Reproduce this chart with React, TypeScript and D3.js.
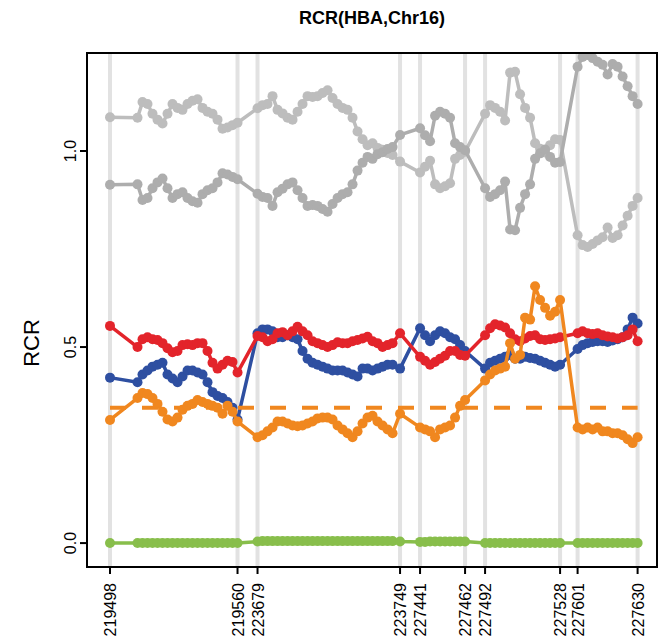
import React, { useRef, useEffect } from 'react';
import * as d3 from 'd3';

// SNP index of every sample along the x axis
const snpIndex = [
  1,
  12, 14, 16, 18, 20, 22, 24, 26, 28, 30, 32, 34, 36, 38, 40, 42, 44, 46, 48, 50, 52,
  60, 62, 64, 66, 68, 70, 72, 74, 76, 78, 80, 82, 84, 86, 88, 90, 92, 94, 96, 98, 100, 102, 104, 106, 108, 110, 112, 114, 117,
  125, 127, 129, 131, 133, 135, 137, 139, 141, 143,
  151, 153, 155, 157, 159, 161, 163, 165, 167, 169, 171, 173, 175, 177, 179, 181,
  188, 190, 192, 194, 196, 198, 200, 202, 204, 206, 208, 210, 212,
];

const tickIndex = [1, 52, 60, 117, 125, 143, 151, 181, 188, 212];
const tickLabels = ['219498', '219560', '223679', '223749', '227441', '227462', '227492', '227528', '227601', '227630'];
const yTicks = [0, 0.5, 1.0];
const yTickLabels = ['0.0', '0.5', '1.0'];

const grayLight = [
  1.086,
  1.085, 1.125, 1.12, 1.095, 1.08, 1.07, 1.095, 1.12, 1.11, 1.105, 1.12, 1.128, 1.132, 1.11, 1.10, 1.095, 1.08, 1.057, 1.06, 1.066, 1.072,
  1.109, 1.117, 1.12, 1.14, 1.105, 1.096, 1.085, 1.08, 1.10, 1.12, 1.14, 1.138, 1.14, 1.148, 1.155, 1.135, 1.12, 1.11, 1.105, 1.085, 1.05, 1.03, 1.015, 1.02, 1.008, 1.003, 0.995, 0.99, 0.973,
  0.945, 0.96, 0.975, 0.915, 0.905, 0.91, 0.918, 0.98, 0.99, 0.998,
  1.095, 1.117, 1.11, 1.10, 1.078, 1.20, 1.202, 1.145, 1.11, 1.085, 1.02, 1.006, 0.996, 1.015, 1.03, 1.028,
  0.785, 0.76, 0.755, 0.763, 0.772, 0.78, 0.805, 0.778, 0.785, 0.81, 0.835, 0.86, 0.88,
];

const grayDark = [
  0.914,
  0.915, 0.875, 0.88, 0.905, 0.92, 0.93, 0.905, 0.88, 0.89, 0.895, 0.88, 0.872, 0.868, 0.89, 0.90, 0.905, 0.92, 0.943, 0.94, 0.934, 0.928,
  0.891, 0.883, 0.88, 0.86, 0.895, 0.904, 0.915, 0.92, 0.90, 0.88, 0.86, 0.862, 0.86, 0.852, 0.845, 0.865, 0.88, 0.89, 0.895, 0.915, 0.95, 0.97, 0.985, 0.98, 0.992, 0.997, 1.005, 1.01, 1.041,
  1.058, 1.04, 1.025, 1.09, 1.10, 1.095, 1.085, 1.02, 1.01, 1.002,
  0.905, 0.883, 0.89, 0.90, 0.922, 0.80, 0.798, 0.855, 0.89, 0.915, 0.98, 0.994, 1.004, 0.985, 0.97, 0.972,
  1.215, 1.24, 1.245, 1.237, 1.228, 1.22, 1.195, 1.222, 1.215, 1.19, 1.165, 1.14, 1.12,
];

const blueRcr = [
  0.422,
  0.41, 0.43, 0.44, 0.45, 0.455, 0.46, 0.43, 0.42, 0.41, 0.425, 0.44, 0.44, 0.435, 0.43, 0.41, 0.385, 0.375, 0.37, 0.36, 0.345, 0.315,
  0.535, 0.545, 0.545, 0.54, 0.525, 0.525, 0.53, 0.525, 0.52, 0.49, 0.47, 0.46, 0.455, 0.45, 0.445, 0.44, 0.44, 0.44, 0.435, 0.43, 0.425, 0.445, 0.445, 0.44, 0.445, 0.45, 0.455, 0.455, 0.445,
  0.548, 0.53, 0.515, 0.53, 0.54, 0.535, 0.525, 0.52, 0.505, 0.49,
  0.445, 0.46, 0.465, 0.47, 0.475, 0.48, 0.47, 0.47, 0.475, 0.472, 0.47, 0.465, 0.46, 0.455, 0.45, 0.455,
  0.495, 0.505, 0.51, 0.513, 0.515, 0.515, 0.513, 0.517, 0.52, 0.525, 0.545, 0.575, 0.56,
];

const redRcr = [
  0.554,
  0.50, 0.52, 0.525, 0.52, 0.518, 0.51, 0.497, 0.487, 0.49, 0.505, 0.507, 0.505, 0.51, 0.51, 0.49, 0.46, 0.445, 0.455, 0.465, 0.462, 0.435,
  0.528, 0.525, 0.515, 0.52, 0.535, 0.538, 0.53, 0.54, 0.552, 0.54, 0.53, 0.515, 0.51, 0.505, 0.50, 0.505, 0.512, 0.51, 0.51, 0.515, 0.518, 0.522, 0.526, 0.515, 0.51, 0.50, 0.505, 0.51, 0.535,
  0.475, 0.465, 0.455, 0.462, 0.47, 0.478, 0.49, 0.49, 0.48, 0.478,
  0.53, 0.548, 0.558, 0.555, 0.55, 0.535, 0.52, 0.515, 0.522, 0.528, 0.53, 0.52, 0.518, 0.52, 0.522, 0.525,
  0.535, 0.54, 0.535, 0.533, 0.535, 0.53, 0.527, 0.525, 0.522, 0.525, 0.53, 0.545, 0.515,
];

const orangeRcr = [
  0.314,
  0.37, 0.383, 0.38, 0.37, 0.355, 0.335, 0.315, 0.31, 0.32, 0.34, 0.35, 0.355, 0.365, 0.36, 0.355, 0.35, 0.345, 0.33, 0.35, 0.335, 0.31,
  0.27, 0.275, 0.285, 0.295, 0.31, 0.31, 0.305, 0.30, 0.298, 0.30, 0.305, 0.31, 0.318, 0.32, 0.32, 0.315, 0.30, 0.29, 0.28, 0.27, 0.285, 0.305, 0.32, 0.325, 0.31, 0.30, 0.29, 0.28, 0.33,
  0.295, 0.29, 0.285, 0.27, 0.29, 0.295, 0.30, 0.32, 0.35, 0.365,
  0.415, 0.43, 0.44, 0.445, 0.45, 0.51, 0.47, 0.48, 0.575, 0.57, 0.655, 0.62, 0.60, 0.58, 0.59, 0.62,
  0.295, 0.29, 0.295, 0.29, 0.295, 0.285, 0.285, 0.28, 0.28, 0.275, 0.265, 0.255, 0.27,
];

const greenRcr = [
  0,
  0, 0, 0, 0, 0, 0, 0, 0, 0, 0, 0, 0, 0, 0, 0, 0, 0, 0, 0, 0, 0,
  0.004, 0.005, 0.005, 0.005, 0.005, 0.005, 0.005, 0.005, 0.005, 0.005, 0.005, 0.005, 0.005, 0.005, 0.005, 0.005, 0.005, 0.005, 0.005, 0.005, 0.005, 0.005, 0.005, 0.005, 0.005, 0.005, 0.005, 0.005, 0.004,
  0.003, 0.003, 0.004, 0.004, 0.004, 0.004, 0.004, 0.004, 0.004, 0.004,
  0, 0, 0, 0, 0, 0, 0, 0, 0, 0, 0, 0, 0, 0, 0, 0,
  0, 0, 0, 0, 0, 0, 0, 0, 0, 0, 0, 0, 0,
];

const orangeMean = 0.345;

const RcrChart = () => {
  const svgRef = useRef<SVGSVGElement>(null);

  useEffect(() => {
    const svg = d3.select(svgRef.current);
    svg.selectAll('*').remove();

    const width = 664;
    const height = 644;
    const box = { left: 87, right: 657, top: 53, bottom: 567 };
    const font = '"Liberation Sans", Arial, Helvetica, sans-serif';

    svg.attr('width', width).attr('height', height);

    const x = d3.scaleLinear().domain([1, 212]).range([110, 637.6]);
    const y = d3.scaleLinear().domain([-0.061, 1.25]).range([box.bottom, box.top]);

    svg.append('defs').append('clipPath')
      .attr('id', 'plot-clip')
      .append('rect')
      .attr('x', box.left)
      .attr('y', box.top)
      .attr('width', box.right - box.left)
      .attr('height', box.bottom - box.top);

    const plot = svg.append('g').attr('clip-path', 'url(#plot-clip)');

    // light guide lines at the labelled positions
    plot.selectAll('.guide')
      .data(tickIndex)
      .join('line')
      .attr('x1', d => x(d))
      .attr('x2', d => x(d))
      .attr('y1', box.top)
      .attr('y2', box.bottom)
      .attr('stroke', '#e2e2e2')
      .attr('stroke-width', 4);

    const series = [
      { name: 'grayLight', values: grayLight, color: '#bdbdbd' },
      { name: 'grayDark', values: grayDark, color: '#adadad' },
      { name: 'blue', values: blueRcr, color: '#2e4fa1' },
      { name: 'red', values: redRcr, color: '#e3242b' },
    ];

    const drawSeries = (s: { name: string; values: number[]; color: string }) => {
      const pts = snpIndex.map((idx, i) => [idx, s.values[i]] as [number, number]);
      const line = d3.line<[number, number]>()
        .x(d => x(d[0]))
        .y(d => y(d[1]));
      plot.append('path')
        .datum(pts)
        .attr('d', line)
        .attr('fill', 'none')
        .attr('stroke', s.color)
        .attr('stroke-width', 3.5)
        .attr('stroke-linejoin', 'round');
      plot.selectAll(`.dot-${s.name}`)
        .data(pts)
        .join('circle')
        .attr('class', `dot-${s.name}`)
        .attr('cx', d => x(d[0]))
        .attr('cy', d => y(d[1]))
        .attr('r', 5)
        .attr('fill', s.color);
    };

    series.forEach(drawSeries);

    // orange mean line
    plot.append('line')
      .attr('x1', x(snpIndex[0]))
      .attr('x2', x(snpIndex[snpIndex.length - 1]))
      .attr('y1', y(orangeMean))
      .attr('y2', y(orangeMean))
      .attr('stroke', '#f0871f')
      .attr('stroke-width', 4)
      .attr('stroke-dasharray', '16,16');

    drawSeries({ name: 'orange', values: orangeRcr, color: '#f0871f' });
    drawSeries({ name: 'green', values: greenRcr, color: '#88be4b' });

    // frame
    svg.append('rect')
      .attr('x', box.left)
      .attr('y', box.top)
      .attr('width', box.right - box.left)
      .attr('height', box.bottom - box.top)
      .attr('fill', 'none')
      .attr('stroke', '#000')
      .attr('stroke-width', 2);

    // y axis
    const yAxis = svg.append('g');
    yAxis.selectAll('line')
      .data(yTicks)
      .join('line')
      .attr('x1', box.left - 7)
      .attr('x2', box.left)
      .attr('y1', d => y(d))
      .attr('y2', d => y(d))
      .attr('stroke', '#000')
      .attr('stroke-width', 2);
    yAxis.selectAll('text')
      .data(yTicks)
      .join('text')
      .attr('transform', d => `translate(${box.left - 11}, ${y(d)}) rotate(-90)`)
      .attr('text-anchor', 'middle')
      .style('font-family', font)
      .style('font-size', '16px')
      .text((d, i) => yTickLabels[i]);

    // x axis
    const xAxis = svg.append('g');
    xAxis.selectAll('line')
      .data(tickIndex)
      .join('line')
      .attr('x1', d => x(d))
      .attr('x2', d => x(d))
      .attr('y1', box.bottom)
      .attr('y2', box.bottom + 7)
      .attr('stroke', '#000')
      .attr('stroke-width', 2);
    xAxis.selectAll('text')
      .data(tickIndex)
      .join('text')
      .attr('transform', d => `translate(${x(d) + 6}, ${box.bottom + 16}) rotate(-90)`)
      .attr('text-anchor', 'end')
      .style('font-family', font)
      .style('font-size', '16px')
      .text((d, i) => tickLabels[i]);

    // titles
    svg.append('text')
      .attr('x', (box.left + box.right) / 2)
      .attr('y', 24)
      .attr('text-anchor', 'middle')
      .style('font-family', font)
      .style('font-size', '18px')
      .style('font-weight', 'bold')
      .text('RCR(HBA,Chr16)');

    svg.append('text')
      .attr('transform', `translate(39, 343) rotate(-90)`)
      .attr('text-anchor', 'middle')
      .style('font-family', font)
      .style('font-size', '22px')
      .text('RCR');
  }, []);

  return (
    <svg ref={svgRef} style={{ position: 'absolute', left: 0, top: 0, background: '#fff' }}></svg>
  );
};

export default function App() {
  return <RcrChart />;
}
